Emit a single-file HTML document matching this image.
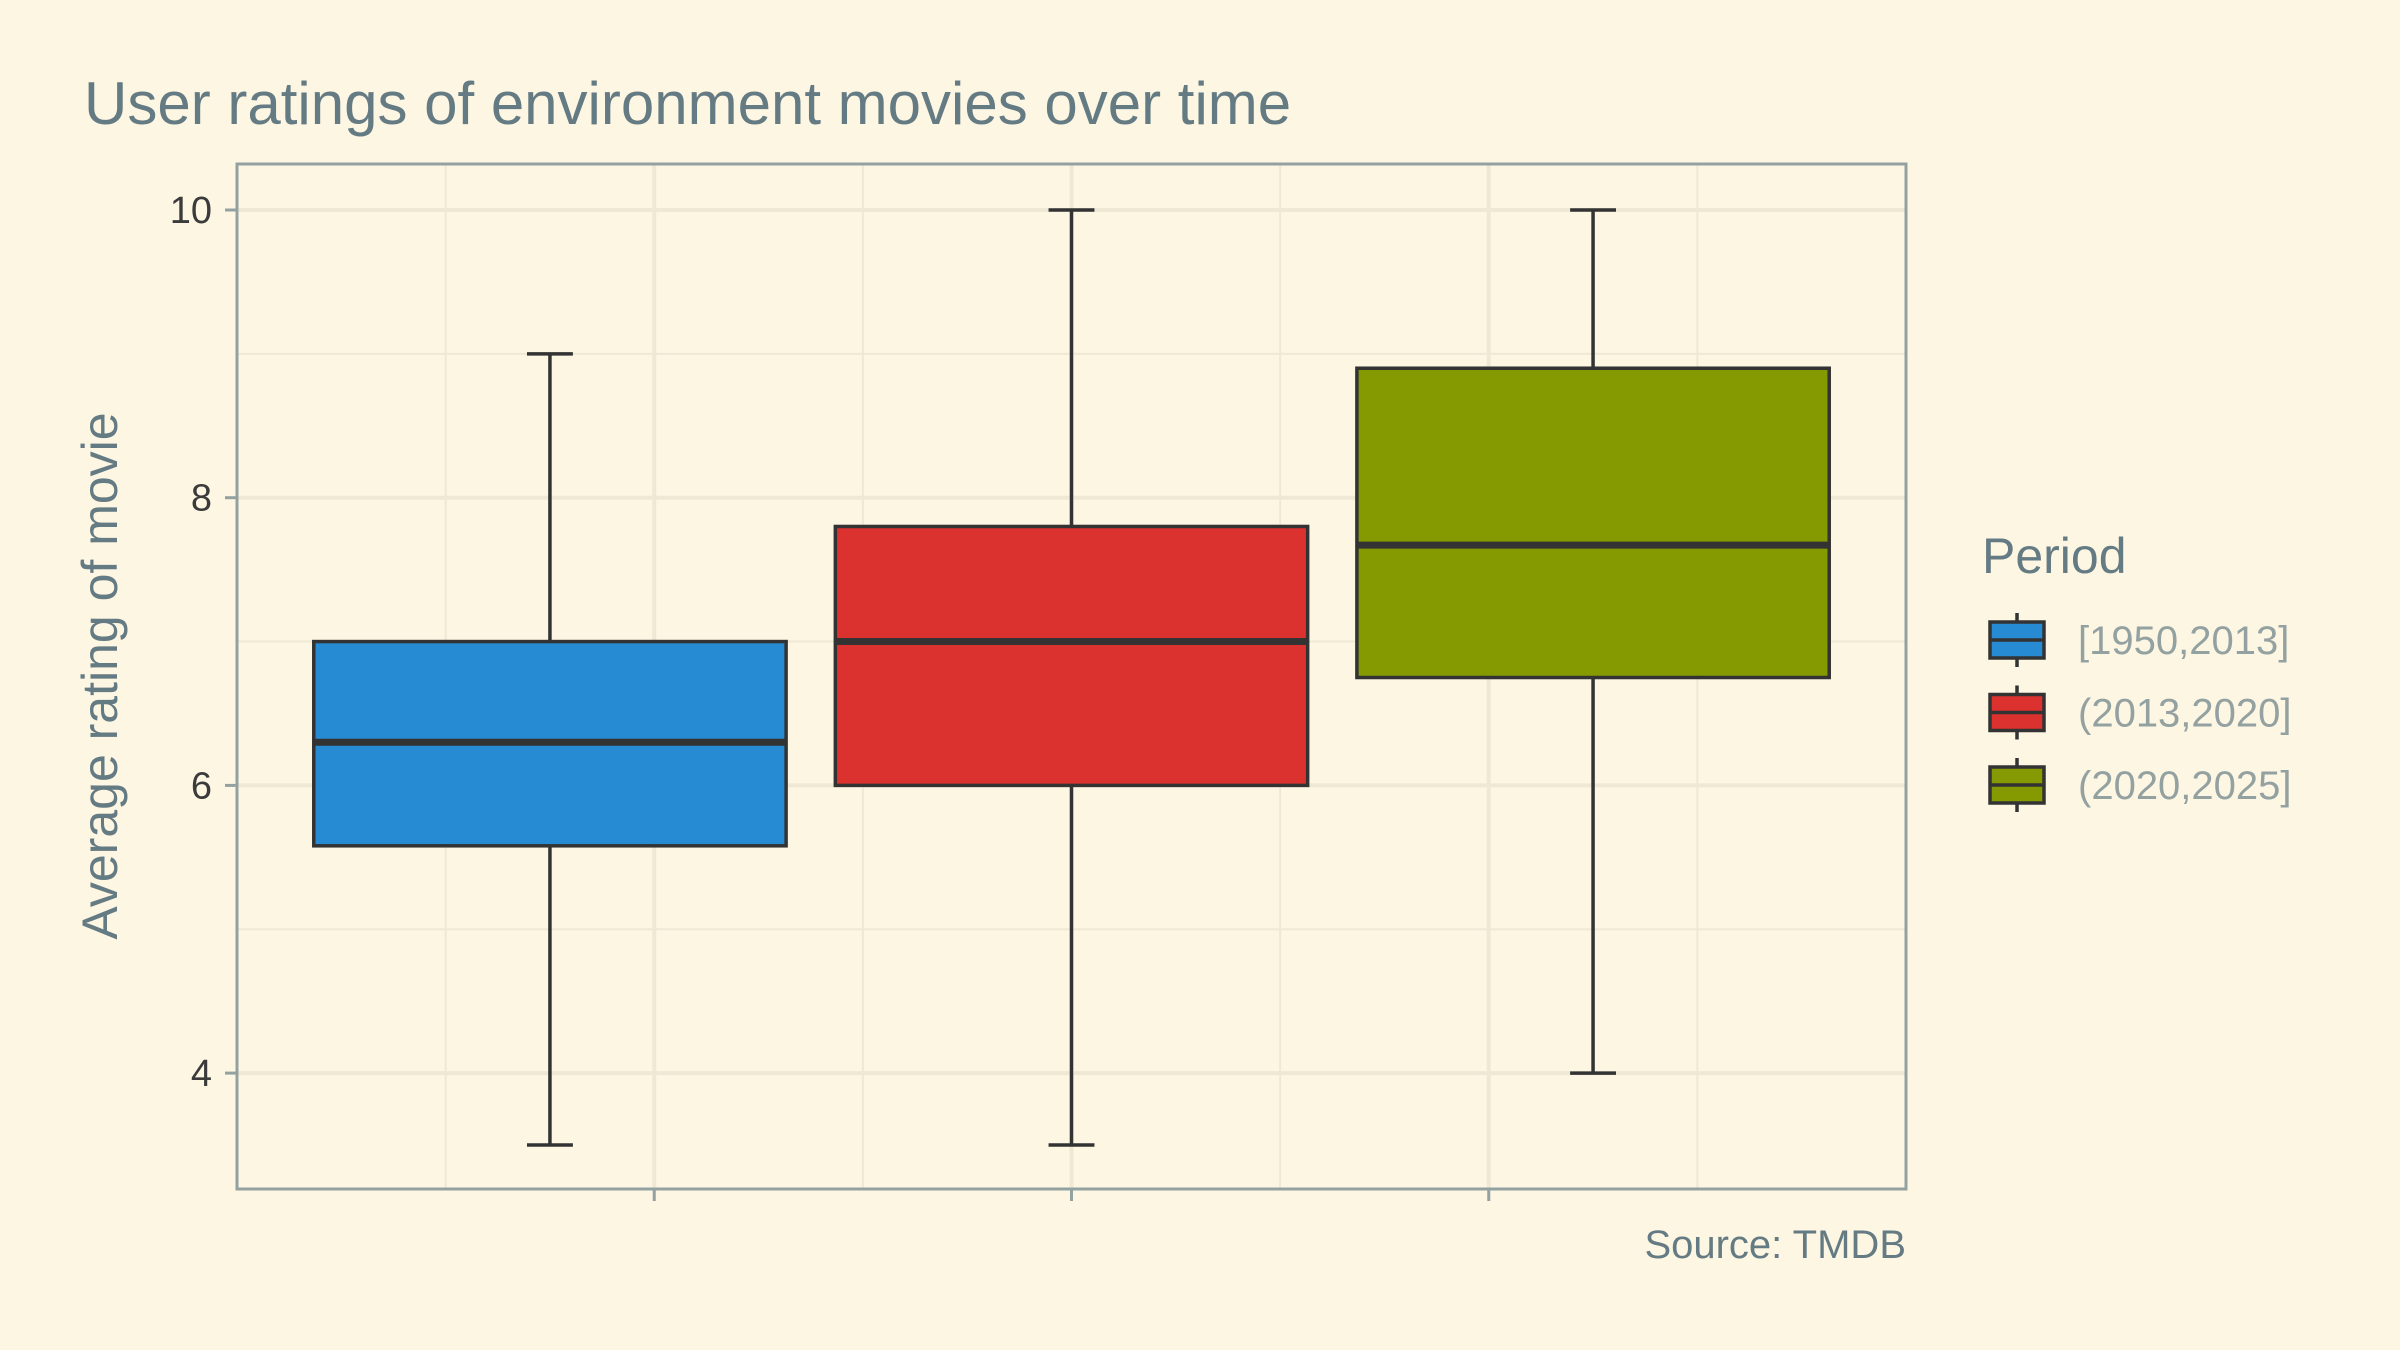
<!DOCTYPE html>
<html><head><meta charset="utf-8">
<style>
html,body{margin:0;padding:0;background:#fdf6e3;}
svg{display:block;font-family:"Liberation Sans",Arial,sans-serif;}
</style></head>
<body>
<svg id="chart" width="2400" height="1350" viewBox="0 0 2400 1350" xmlns="http://www.w3.org/2000/svg">
<rect width="2400" height="1350" fill="#fdf6e3"/>
<text x="84" y="124" font-size="60" fill="#657b83">User ratings of environment movies over time</text>
<g id="grid"></g>
<g id="boxes"></g>
<g id="axes"></g>
<text transform="translate(117,676) rotate(-90)" text-anchor="middle" font-size="50" fill="#657b83">Average rating of movie</text>
<text x="1906" y="1258" text-anchor="end" font-size="40" fill="#657b83">Source: TMDB</text>
<text x="1982" y="573" font-size="50" fill="#657b83">Period</text>
<g id="legend"></g>
</svg>
<script>
const categories = ["[1950,2013]", "(2013,2020]", "(2020,2025]"];
const lowerWhisker = [3.5, 3.5, 4.0];
const q1Values = [5.58, 6.0, 6.75];
const medianValues = [6.3, 7.0, 7.67];
const q3Values = [7.0, 7.8, 8.9];
const upperWhisker = [9.0, 10.0, 10.0];
const colors = ["#268bd2", "#dc322f", "#859900"];
const yTicks = [4, 6, 8, 10];
const yMinor = [5, 7, 9];

const NS = "http://www.w3.org/2000/svg";
const L = 237, R = 1906, T = 164, B = 1189;
function xs(v){ return L + v * (R - L) / 4; }
function ys(v){ return 210 + (10 - v) * 143.85; }
function boxPos(i){ return 2 + (i - 1) * 1.25; }
function mk(tag, attrs, parent){
  const e = document.createElementNS(NS, tag);
  for (const k in attrs) e.setAttribute(k, attrs[k]);
  parent.appendChild(e);
  return e;
}
const grid = document.getElementById('grid');
const boxes = document.getElementById('boxes');
const axes = document.getElementById('axes');
const legend = document.getElementById('legend');

yMinor.forEach(v => {
  const l = mk('line', {x1:L, x2:R, y1:ys(v), y2:ys(v), stroke:'#eee8d5', 'stroke-width':2}, grid);
  
  
});
[0.5,1.5,2.5,3.5].forEach(v => {
  const l = mk('line', {x1:xs(v), x2:xs(v), y1:T, y2:B, stroke:'#eee8d5', 'stroke-width':2}, grid);
  
  
});
yTicks.forEach(v => {
  const l = mk('line', {x1:L, x2:R, y1:ys(v), y2:ys(v), stroke:'#eee8d5', 'stroke-width':4}, grid);
  
  
});
[1,2,3].forEach(v => {
  const l = mk('line', {x1:xs(v), x2:xs(v), y1:T, y2:B, stroke:'#eee8d5', 'stroke-width':4}, grid);
  
  
});

const halfW = 0.566, capW = 0.055;
categories.forEach((c, i) => {
  const p = boxPos(i);
  const cx = xs(p);
  const g = mk('g', {}, boxes);
  
  
  const w1 = mk('line', {x1:cx, x2:cx, y1:ys(upperWhisker[i]), y2:ys(q3Values[i]), stroke:'#333', 'stroke-width':3.5}, g);
  
  
  const w2 = mk('line', {x1:cx, x2:cx, y1:ys(q1Values[i]), y2:ys(lowerWhisker[i]), stroke:'#333', 'stroke-width':3.5}, g);
  
  
  const c1 = mk('line', {x1:xs(p-capW), x2:xs(p+capW), y1:ys(upperWhisker[i]), y2:ys(upperWhisker[i]), stroke:'#333', 'stroke-width':3.5}, g);
  
  
  const c2 = mk('line', {x1:xs(p-capW), x2:xs(p+capW), y1:ys(lowerWhisker[i]), y2:ys(lowerWhisker[i]), stroke:'#333', 'stroke-width':3.5}, g);
  
  
  const r = mk('rect', {x:xs(p-halfW), y:ys(q3Values[i]), width:xs(p+halfW)-xs(p-halfW), height:ys(q1Values[i])-ys(q3Values[i]), fill:colors[i], stroke:'#333', 'stroke-width':3.5}, g);
  
  
  const m = mk('line', {x1:xs(p-halfW), x2:xs(p+halfW), y1:ys(medianValues[i]), y2:ys(medianValues[i]), stroke:'#333', 'stroke-width':7}, g);
  
  
});

const border = mk('rect', {x:L, y:T, width:R-L, height:B-T, fill:'none', stroke:'#93a1a1', 'stroke-width':3}, axes);


yTicks.forEach(v => {
  const t = mk('line', {x1:L-12, x2:L, y1:ys(v), y2:ys(v), stroke:'#93a1a1', 'stroke-width':3}, axes);
  
  
  const tx = mk('text', {x:L-25, y:ys(v)+13, 'text-anchor':'end', 'font-size':38, fill:'#3b3b3b'}, axes);
  tx.textContent = String(v);
  
  
});
[1,2,3].forEach(v => {
  const t = mk('line', {x1:xs(v), x2:xs(v), y1:B, y2:B+12, stroke:'#93a1a1', 'stroke-width':3}, axes);
  
  
});

categories.forEach((c, i) => {
  const cy = 640 + i * 72.5;
  const g = mk('g', {}, legend);
  
  
  const wl = mk('line', {x1:2017, x2:2017, y1:cy-27, y2:cy+27, stroke:'#333', 'stroke-width':3.5}, g);
  
  
  const k = mk('rect', {x:1990, y:cy-18, width:54, height:36, fill:colors[i], stroke:'#333', 'stroke-width':3.5}, g);
  
  
  const km = mk('line', {x1:1990, x2:2044, y1:cy, y2:cy, stroke:'#333', 'stroke-width':3.5}, g);
  
  
  const lt = mk('text', {x:2078, y:cy+14, 'font-size':40, fill:'#93a1a1'}, g);
  lt.textContent = c;
  
  
});
</script>
</body></html>
